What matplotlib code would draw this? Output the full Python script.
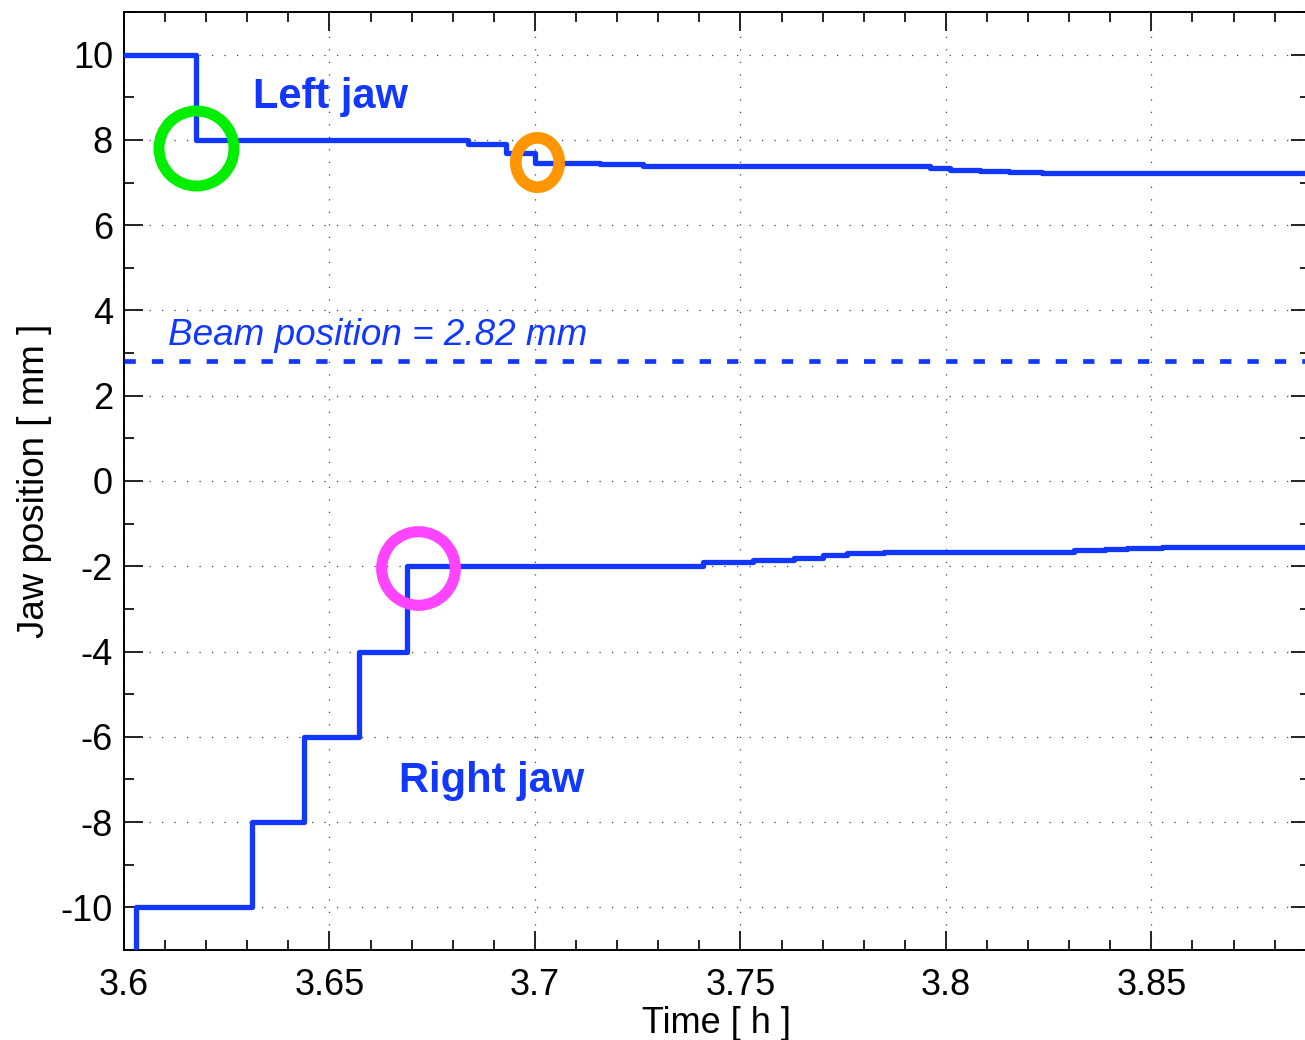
import numpy as np
import matplotlib
matplotlib.use("Agg")
import matplotlib.pyplot as plt
from matplotlib.path import Path
from matplotlib.ticker import MultipleLocator, FixedLocator, FixedFormatter

plt.rcParams['font.family'] = ['Liberation Sans', 'DejaVu Sans']
plt.rcParams['axes.unicode_minus'] = False

# jaw positions (step changes), time in hours, position in mm
left_t = [3.59, 3.6176, 3.6836, 3.6929, 3.7001, 3.7159, 3.7262, 3.7962, 3.8011, 3.8084, 3.8153, 3.8234, 3.90]
left_v = [10.0, 8.0, 7.9, 7.7, 7.47, 7.43, 7.39, 7.33, 7.29, 7.26, 7.24, 7.22, 7.22]

right_t = [3.6029, 3.6029, 3.6311, 3.6437, 3.6571, 3.6688, 3.7408, 3.753, 3.763, 3.7702,
           3.7759, 3.7849, 3.8311, 3.8386, 3.8441, 3.8527, 3.90]
right_v = [-12.0, -10.0, -8.0, -6.0, -4.0, -2.0, -1.91, -1.85, -1.80, -1.74,
           -1.70, -1.66, -1.62, -1.60, -1.57, -1.55, -1.55]

beam_pos = 2.82

# highlighted events: (time, position)
green_evt = (3.6176, 7.82)
orange_evt = (3.7004, 7.49)
magenta_evt = (3.6715, -2.03)

xticks = [3.6, 3.65, 3.7, 3.75, 3.8, 3.85]
xtick_labels = ['3.6', '3.65', '3.7', '3.75', '3.8', '3.85']
yticks = [-10, -8, -6, -4, -2, 0, 2, 4, 6, 8, 10]
ytick_labels = [str(v) for v in yticks]

blue = '#1238ff'

fig = plt.figure(figsize=(13.05, 10.4), dpi=100)
ax = fig.add_axes([124 / 1305, 90 / 1040, 1186 / 1305, 938 / 1040])

ax.plot(left_t, left_v, drawstyle='steps-post', color=blue, lw=3.8, zorder=3)
ax.plot(right_t, right_v, drawstyle='steps-post', color=blue, lw=3.8, zorder=3)
ax.axhline(beam_pos, color=blue, lw=3.4, dashes=(2.4, 3.4), zorder=3)

# circles marking the events
ax.plot(*green_evt, 'o', ms=54, mfc='none', mec='#00ee00', mew=7.9, zorder=4)
ax.plot(*magenta_evt, 'o', ms=53, mfc='none', mec='#ff44ff', mew=8.0, zorder=4)
th = np.linspace(0, 2 * np.pi, 100)
oval = Path(np.column_stack([np.cos(th) * 0.88, np.sin(th)]))
ax.plot(*orange_evt, marker=oval, ms=35.5, mfc='none', mec='#ff9500', mew=8.4, zorder=4)

ax.text(3.6315, 8.75, 'Left jaw', color=blue, fontsize=30, fontweight='bold', va='baseline')
ax.text(3.6668, -7.3, 'Right jaw', color=blue, fontsize=30, fontweight='bold', va='baseline')
ax.text(3.6107, 3.2, 'Beam position = 2.82 mm', color=blue, fontsize=26.6,
        style='italic', va='baseline')

ax.set_xlim(3.6, 3.8886)
ax.set_ylim(-11, 11)
ax.xaxis.set_major_locator(FixedLocator(xticks))
ax.xaxis.set_major_formatter(FixedFormatter(xtick_labels))
ax.xaxis.set_minor_locator(MultipleLocator(0.01))
ax.yaxis.set_major_locator(FixedLocator(yticks))
ax.yaxis.set_major_formatter(FixedFormatter(ytick_labels))
ax.yaxis.set_minor_locator(MultipleLocator(1))

ax.tick_params(which='both', direction='in', top=True, right=True, width=1.4, color='#222222')
ax.tick_params(which='major', length=14, labelsize=26)
ax.tick_params(axis='x', which='major', pad=13)
ax.tick_params(axis='y', which='major', pad=8)
ax.tick_params(which='minor', length=7.5)
for s in ax.spines.values():
    s.set_linewidth(1.4)

ax.grid(True, which='major', color='#444444', lw=0.9, dashes=(1, 9))

ax.set_xlabel('Time [ h ]', fontsize=26, labelpad=2)
ax.set_ylabel('Jaw position [ mm ]', fontsize=26.5, labelpad=6)

fig.savefig('out.png', dpi=100)
